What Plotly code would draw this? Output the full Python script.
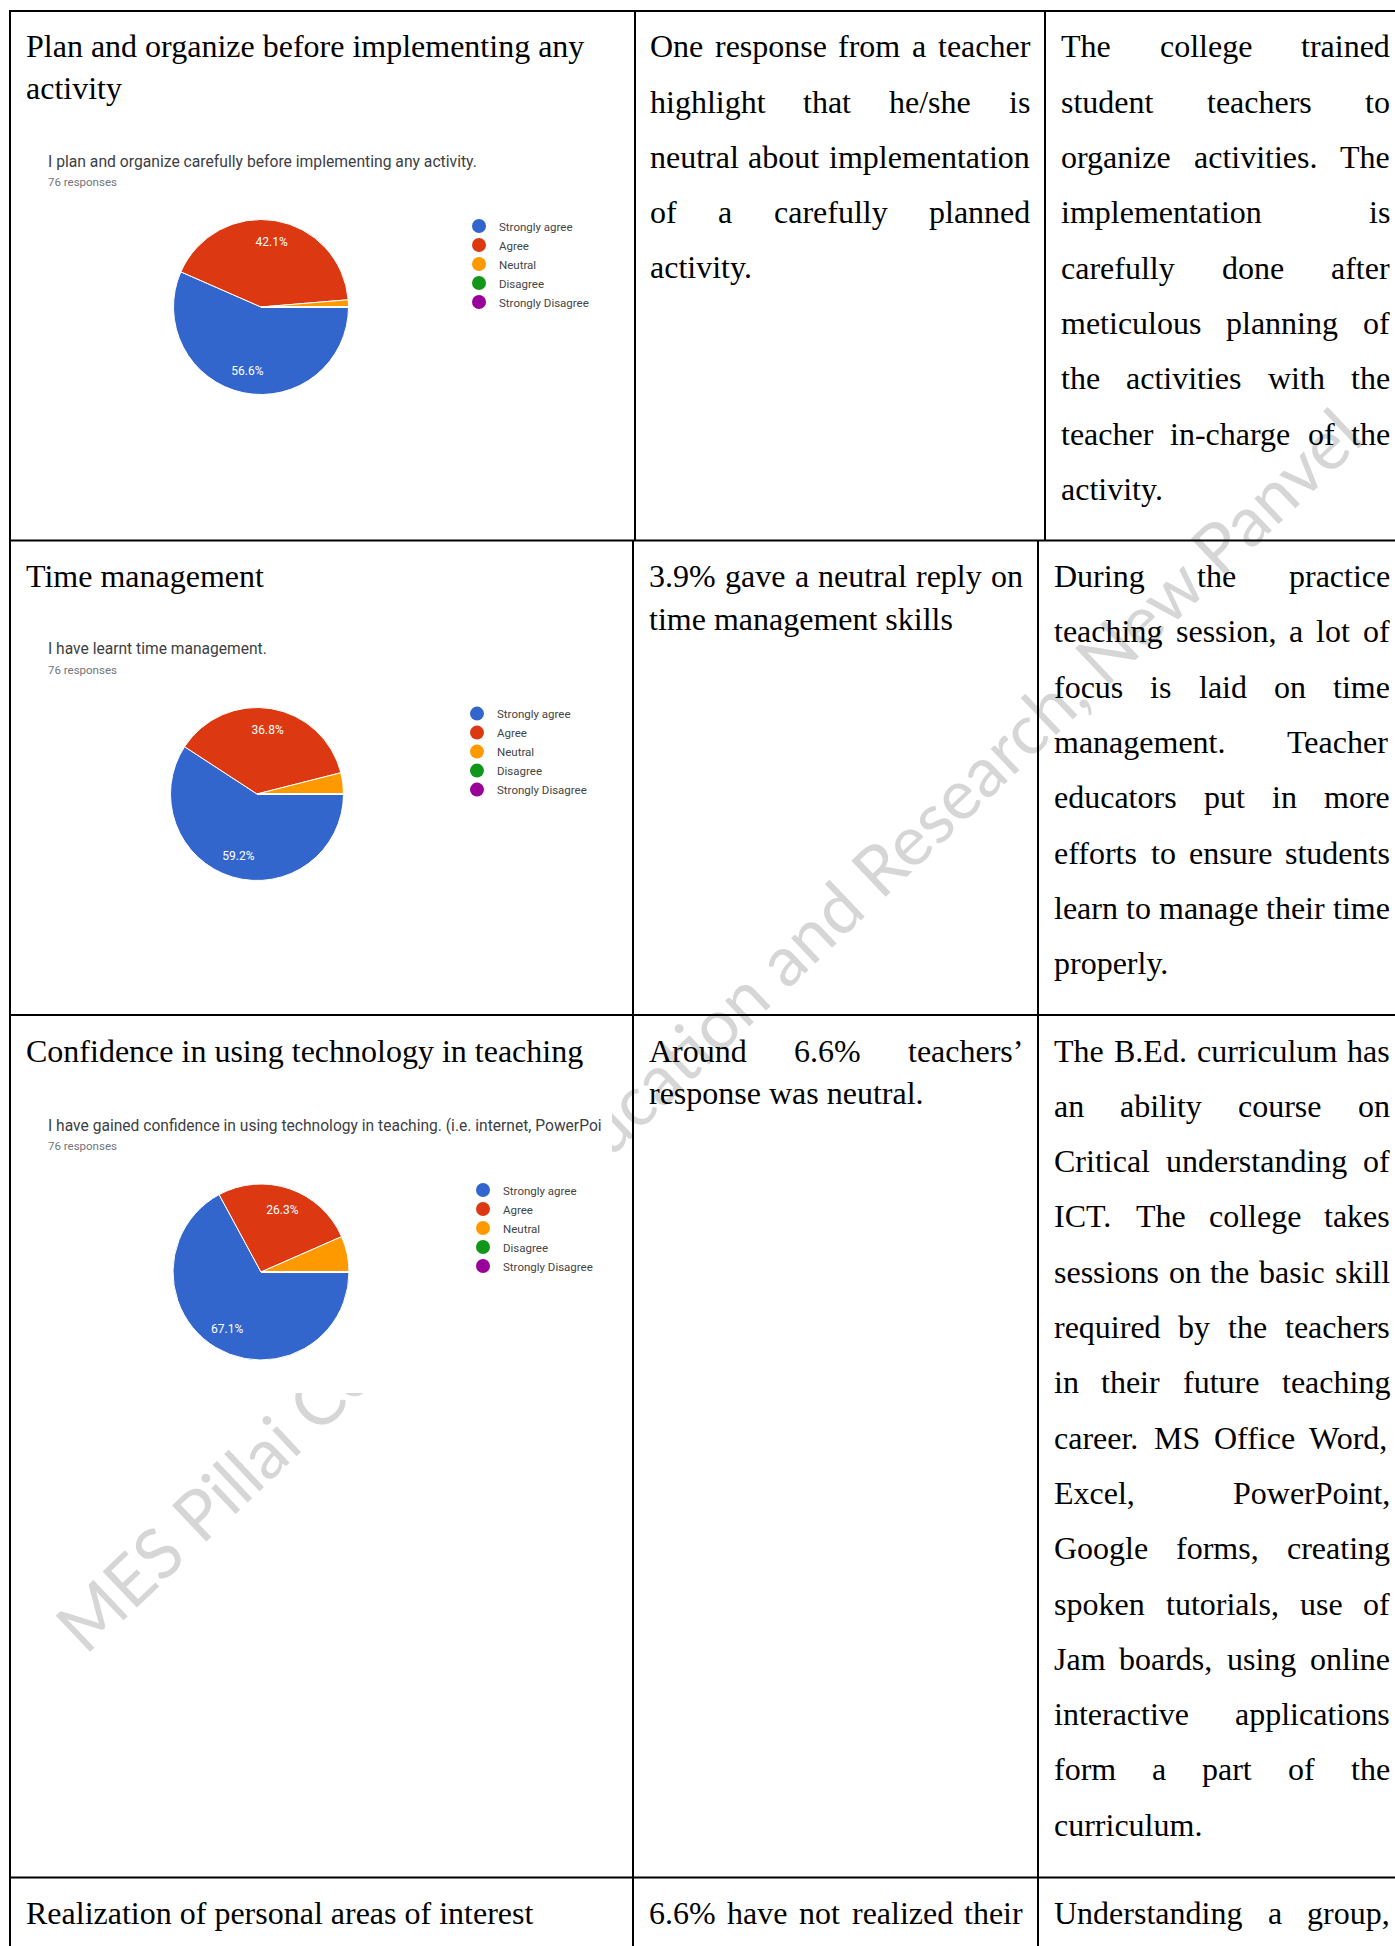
import math
import plotly.graph_objects as go

W, H = 1395, 1946

# ---------------- data ----------------
CATEGORIES = ["Strongly agree", "Agree", "Neutral", "Disagree", "Strongly Disagree"]
SLICE_COLORS = ["#3366cc", "#dc3912", "#ff9900", "#109618", "#990099"]
PLAN_COUNTS = [43, 32, 1, 0, 0]
TIME_COUNTS = [45, 28, 3, 0, 0]
TECH_COUNTS = [51, 20, 5, 0, 0]
SHOW_PCT = [True, True, False, False, False]

CHART_TITLES = [
    "I plan and organize carefully before implementing any activity.",
    "I have learnt time management.",
    "I have gained confidence in using technology in teaching. (i.e. internet, PowerPoi",
]
RESPONSES = ["76 responses", "76 responses", "76 responses"]

ROW_TITLES = [
    ["Plan and organize before implementing any", "activity"],
    ["Time management"],
    ["Confidence in using technology in teaching"],
    ["Realization of personal areas of interest"],
]
COL2_TEXT = [
    ["One response from a teacher", "highlight that he/she is",
     "neutral about implementation", "of a carefully planned", "activity."],
    ["3.9% gave a neutral reply on", "time management skills"],
    ["Around 6.6% teachers\u2019", "response was neutral."],
    ["6.6% have not realized their"],
]
COL3_TEXT = [
    ["The college trained", "student teachers to", "organize activities. The",
     "implementation is", "carefully done after", "meticulous planning of",
     "the activities with the", "teacher in-charge of the", "activity."],
    ["During the practice", "teaching session, a lot of", "focus is laid on time",
     "management. Teacher", "educators put in more", "efforts to ensure students",
     "learn to manage their time", "properly."],
    ["The B.Ed. curriculum has", "an ability course on", "Critical understanding of",
     "ICT. The college takes", "sessions on the basic skill", "required by the teachers",
     "in their future teaching", "career. MS Office Word,", "Excel, PowerPoint,",
     "Google forms, creating", "spoken tutorials, use of", "Jam boards, using online",
     "interactive applications", "form a part of the", "curriculum."],
    ["Understanding a group,"],
]
# rows whose paragraph continues on the next page (last line still justified)
CONTINUES = [False, False, False, True]

WATERMARK = "MES Pillai College of Education and Research, New Panvel"

# ---------------- layout geometry (pixels) ----------------
def px(x):
    return x / W


def py(y):
    return 1 - y / H


ROW_TOP = [11, 540.5, 1015, 1877.5]
COL1_X = [635, 633, 633, 633]
COL2_X = [1045, 1038, 1038, 1038]
COL2_TXT = [(649, 1029), (648, 1022), (648, 1022), (648, 1022)]
COL3_TXT = [(1060, 1389), (1053, 1389), (1053, 1389), (1053, 1389)]
COL2_SPACING = [55.2, 42.5, 42.5, 42.5]
COL3_SPACING = 55.3
TITLE_SPACING = 42
FIRST_LINE = 37
TEXT_DY = -1.5
FS = 32
SERIF = "Liberation Serif, Times New Roman, serif"
SANS = "Roboto, Arial, sans-serif"

PIE_GEOM = [(261, 307, 87.5), (257, 794, 86.5), (261, 1272, 88)]
TITLE_POS = [(47, 161), (47, 649), (47, 1126)]
RESP_POS = [(47, 182), (47, 670), (47, 1145.5)]
TITLE_FS = [15.7, 15.6, 15.6]
LEGEND_POS = [(479, 226), (477, 713.6), (483, 1190)]

TIMES_W = {' ': 250, '.': 250, ',': 250, '-': 333, '/': 278, '%': 833, '\u2019': 333,
           "'": 180, '(': 333, ')': 333, ':': 278}
for d in "0123456789":
    TIMES_W[d] = 500
TIMES_W.update(dict(zip("abcdefghijklmnopqrstuvwxyz",
                        [444, 500, 444, 500, 444, 333, 500, 500, 278, 278, 500, 278, 778,
                         500, 500, 500, 500, 333, 389, 278, 500, 500, 722, 500, 500, 444])))
TIMES_W.update(dict(zip("ABCDEFGHIJKLMNOPQRSTUVWXYZ",
                        [722, 667, 667, 722, 611, 556, 722, 722, 333, 389, 722, 611, 889,
                         722, 722, 556, 722, 667, 556, 611, 722, 722, 944, 722, 722, 611])))


def text_width(s):
    return sum(TIMES_W.get(c, 500) for c in s) * FS / 1000.0


annotations = []


def add_text(text, x, y, size=FS, family=SERIF, color="black", dy=TEXT_DY):
    annotations.append(dict(
        text=text, x=px(x), y=py(y + dy), xref="paper", yref="paper",
        xanchor="left", yanchor="middle", showarrow=False, borderpad=0,
        font=dict(family=family, size=size, color=color)))


def add_line(text, xl, xr, y, justify):
    words = text.split(" ")
    if not justify or len(words) == 1:
        add_text(text, xl, y)
        return
    widths = [text_width(w) for w in words]
    gap = (xr - xl - sum(widths)) / (len(words) - 1)
    x = xl
    for w, wd in zip(words, widths):
        add_text(w, x, y)
        x += wd + gap


def add_paragraph(lines, xl, xr, y0, spacing, continues):
    for i, ln in enumerate(lines):
        last = (i == len(lines) - 1) and not continues
        add_line(ln, xl, xr, y0 + i * spacing, not last)


for r in range(4):
    y0 = ROW_TOP[r] + FIRST_LINE
    for i, t in enumerate(ROW_TITLES[r]):
        add_text(t, 25, y0 + i * TITLE_SPACING)
    add_paragraph(COL2_TEXT[r], COL2_TXT[r][0], COL2_TXT[r][1], y0, COL2_SPACING[r], CONTINUES[r])
    add_paragraph(COL3_TEXT[r], COL3_TXT[r][0], COL3_TXT[r][1], y0, COL3_SPACING, CONTINUES[r])

# chart screenshot captions
for k in range(3):
    add_text(CHART_TITLES[k], TITLE_POS[k][0], TITLE_POS[k][1],
             size=TITLE_FS[k], family=SANS, color="#3c4043", dy=0)
    add_text(RESPONSES[k], RESP_POS[k][0], RESP_POS[k][1],
             size=11.5, family=SANS, color="#70757a", dy=0)

# ---------------- traces ----------------
fig = go.Figure()
all_counts = [PLAN_COUNTS, TIME_COUNTS, TECH_COUNTS]
for k, counts in enumerate(all_counts):
    cx, cy, r = PIE_GEOM[k]
    dom = dict(x=[px(cx - r), px(cx + r)], y=[py(cy + r), py(cy - r)])
    fig.add_trace(go.Pie(
        labels=CATEGORIES, values=counts, sort=False, direction="clockwise",
        rotation=90, domain=dom, textinfo="none", showlegend=False,
        marker=dict(colors=SLICE_COLORS, line=dict(color="white", width=1)),
        hoverinfo="label+percent"))
    fig.add_trace(go.Pie(
        labels=CATEGORIES, values=counts, sort=False, direction="clockwise",
        rotation=90, domain=dom, hole=0.5, showlegend=False,
        texttemplate=["%{percent:.1%}" if s else "" for s in SHOW_PCT],
        textposition="inside", insidetextorientation="horizontal",
        textfont=dict(family=SANS, size=12, color="white"),
        marker=dict(colors=["rgba(0,0,0,0)"] * 5, line=dict(width=0)),
        hoverinfo="skip"))
    legend_name = "legend" if k == 0 else f"legend{k + 1}"
    for cat, col in zip(CATEGORIES, SLICE_COLORS):
        fig.add_trace(go.Scatter(
            x=[None], y=[None], mode="markers", name=cat, legend=legend_name,
            marker=dict(color=col, size=14, symbol="circle"),
            showlegend=True, hoverinfo="skip"))

# ---------------- shapes ----------------
shapes = []
# watermark (beneath everything)
wm_cx, wm_cy, wm_half, wm_ang = 736, 1062, 950, 43.5
dx = wm_half * math.cos(math.radians(wm_ang))
dy = wm_half * math.sin(math.radians(wm_ang))
shapes.append(dict(
    type="line", xref="paper", yref="paper", layer="below",
    x0=px(wm_cx - dx), y0=py(wm_cy + dy), x1=px(wm_cx + dx), y1=py(wm_cy - dy),
    line=dict(color="rgba(0,0,0,0)", width=1),
    label=dict(text=WATERMARK, textangle=-wm_ang, textposition="middle",
               font=dict(family="Lato, Open Sans, sans-serif", size=69.5, color="#d6d6d6"))))
# white background of the third embedded chart image
shapes.append(dict(type="rect", xref="paper", yref="paper", layer="below",
                   x0=px(25), x1=px(612), y0=py(1393), y1=py(1106),
                   fillcolor="white", line=dict(width=0)))

LW = 2


def hline(y, x0=10, x1=W):
    shapes.append(dict(type="line", xref="paper", yref="paper", layer="above",
                       x0=px(x0), x1=px(x1), y0=py(y), y1=py(y),
                       line=dict(color="black", width=LW)))


def vline(x, y0, y1):
    shapes.append(dict(type="line", xref="paper", yref="paper", layer="above",
                       x0=px(x), x1=px(x), y0=py(y0), y1=py(y1),
                       line=dict(color="black", width=LW)))


for y in ROW_TOP:
    hline(y)
vline(10, 10, H)
bounds = ROW_TOP + [H]
for r in range(4):
    vline(COL1_X[r], bounds[r], bounds[r + 1])
    vline(COL2_X[r], bounds[r], bounds[r + 1])

# ---------------- layout ----------------
legends = {}
for k in range(3):
    lx, ly = LEGEND_POS[k]
    key = "legend" if k == 0 else f"legend{k + 1}"
    legends[key] = dict(
        x=px(lx - 20), y=py(ly - 14.5), xanchor="left", yanchor="top",
        font=dict(family=SANS, size=11.5, color="#444444"),
        bgcolor="rgba(0,0,0,0)", borderwidth=0, traceorder="normal",
        itemclick=False, itemdoubleclick=False)

fig.update_layout(
    width=W, height=H, autosize=False,
    margin=dict(l=0, r=0, t=0, b=0, pad=0),
    paper_bgcolor="white", plot_bgcolor="rgba(0,0,0,0)",
    xaxis=dict(visible=False, domain=[0, 0.01], fixedrange=True),
    yaxis=dict(visible=False, domain=[0, 0.01], fixedrange=True),
    annotations=annotations, shapes=shapes,
    **legends,
)

fig.write_html("out.html")
